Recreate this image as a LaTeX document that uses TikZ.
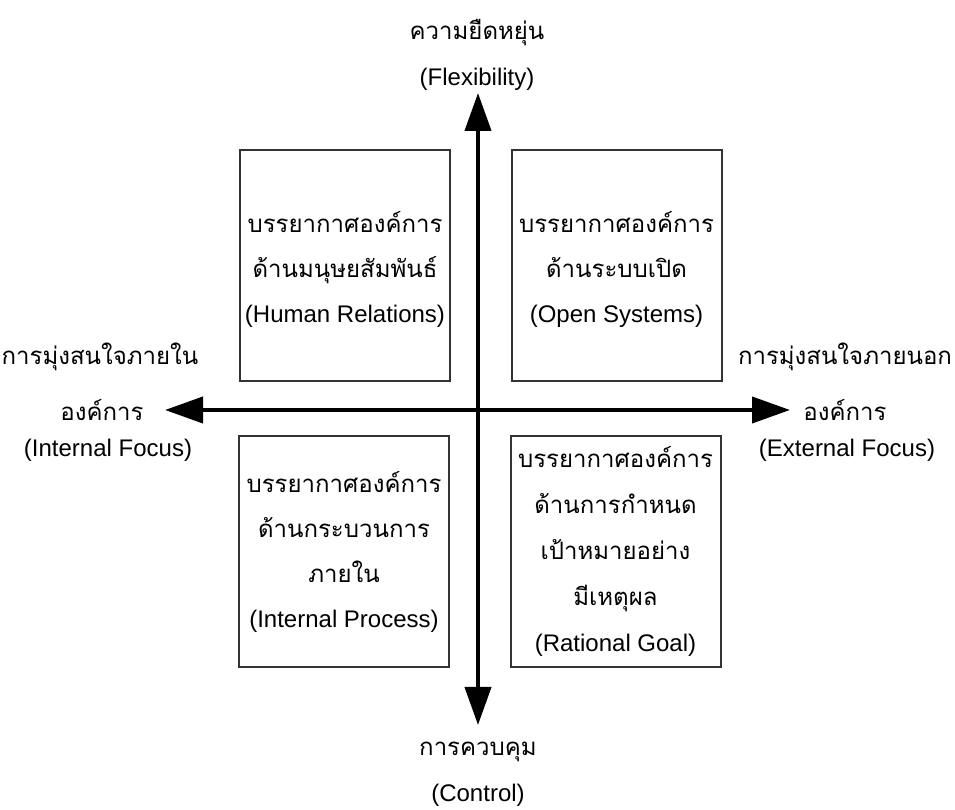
\documentclass[tikz,border=0pt]{standalone}
\usepackage{fontspec}
\setmainfont{Liberation Sans}
\newfontfamily\thai[Script=Thai]{Loma}
\usetikzlibrary{arrows.meta}
\begin{document}
\begin{tikzpicture}[x=1pt,y=1pt,
  quad/.style={draw=black!80, line width=2pt, minimum width=210pt, minimum height=231pt, inner sep=0pt, align=center, font=\fontsize{24}{45}\selectfont},
  lbl/.style={inner sep=0pt, font=\fontsize{24}{28}\selectfont},
  axis/.style={line width=4pt, -{Triangle[length=38pt,width=26pt]}}]
\useasboundingbox (0,0) rectangle (955,810);
% quadrant boxes
\node[quad] (hr) at (345,544.5) {\rule{0pt}{28pt}{\thai บรรยากาศองค์การ}\\{\thai ด้านมนุษยสัมพันธ์}\\(Human Relations)};
\node[quad] (os) at (616.5,544.5) {\rule{0pt}{28pt}{\thai บรรยากาศองค์การ}\\{\thai ด้านระบบเปิด}\\(Open Systems)};
\node[quad] (ip) at (344,258.5) {{\thai บรรยากาศองค์การ}\\{\thai ด้านกระบวนการ}\\{\thai ภายใน}\\(Internal Process)};
\node[quad, font=\fontsize{24}{46}\selectfont] (rg) at (615.5,258.5) {{\thai บรรยากาศองค์การ}\\{\thai ด้านการกำหนด}\\{\thai เป้าหมายอย่าง}\\{\thai มีเหตุผล}\\(Rational Goal)\rule[-6pt]{0pt}{6pt}};
% axes
\coordinate (c) at (478,400);
\coordinate (top) at (478,717);
\coordinate (bot) at (478,85);
\coordinate (lft) at (165,400);
\coordinate (rgt) at (790,400);
\draw[axis] (c) -- (top);
\draw[axis] (c) -- (bot);
\draw[axis] (c) -- (lft);
\draw[axis] (c) -- (rgt);
% axis labels
\node[lbl] (t1) at (477,777) {\thai ความยืดหยุ่น};
\node[lbl] (t2) at (477,731) {(Flexibility)};
\node[lbl] (b1) at (478,58) {\thai การควบคุม};
\node[lbl] (b2) at (478,15) {(Control)};
\node[lbl] (l1) at (100,453) {\thai การมุ่งสนใจภายใน};
\node[lbl] (l2) at (102,400) {\thai องค์การ};
\node[lbl] (l3) at (108,360) {(Internal Focus)};
\node[lbl] (r1) at (845,453) {\thai การมุ่งสนใจภายนอก};
\node[lbl] (r2) at (845,400) {\thai องค์การ};
\node[lbl] (r3) at (847,360) {(External Focus)};
\end{tikzpicture}
\end{document}
